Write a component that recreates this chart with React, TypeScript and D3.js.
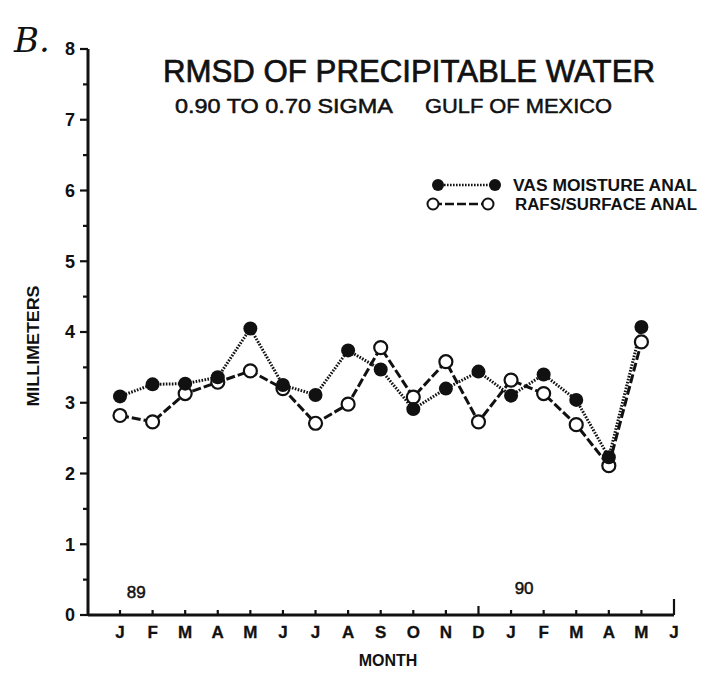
import React from "react";
import * as d3 from "d3";

// Monthly RMSD of precipitable water, Jan 1989 – May 1990
const months = ["J", "F", "M", "A", "M", "J", "J", "A", "S", "O", "N", "D", "J", "F", "M", "A", "M", "J"];
const vasMoisture = [3.09, 3.26, 3.27, 3.36, 4.05, 3.25, 3.11, 3.74, 3.47, 2.91, 3.2, 3.44, 3.1, 3.4, 3.04, 2.23, 4.07];
const rafsSurface = [2.82, 2.73, 3.13, 3.29, 3.45, 3.2, 2.71, 2.98, 3.78, 3.08, 3.58, 2.73, 3.32, 3.13, 2.69, 2.11, 3.86];
const yMajorTicks = [0, 1, 2, 3, 4, 5, 6, 7, 8];
const yMinorTicks = [0.5, 1.5, 2.5, 3.5, 4.5, 5.5, 6.5, 7.5];
const yearLabels = [
  { label: "89", index: 0.5 },
  { label: "90", index: 12.4 },
];

const W = 706;
const H = 680;
const sans = "'Liberation Sans', Arial, Helvetica, sans-serif";
const ink = "#111";

export default function App() {
  const axisX = 88;
  const x = d3.scaleLinear().domain([0, 17]).range([120, 674]);
  const y = d3.scaleLinear().domain([0, 8]).range([615, 49]);

  const line = d3
    .line<number>()
    .x((_, i) => x(i))
    .y((d) => y(d));

  return (
    <svg
      width={W}
      height={H}
      viewBox={`0 0 ${W} ${H}`}
      style={{ position: "absolute", left: 0, top: 0, background: "#fff" }}
    >
      <rect width={W} height={H} fill="#fff" />

      {/* panel letter */}
      <text x={14} y={52} fontFamily="'DejaVu Serif', serif" fontStyle="italic" fontSize={34} fill={ink}>
        B.
      </text>

      {/* titles */}
      <text x={163} y={82} fontFamily={sans} fontSize={32} textLength={492} lengthAdjust="spacingAndGlyphs" fill={ink} stroke={ink} strokeWidth={0.7}>
        RMSD OF PRECIPITABLE WATER
      </text>
      <text x={175} y={113} fontFamily={sans} fontSize={20} textLength={218} lengthAdjust="spacingAndGlyphs" fill={ink} stroke={ink} strokeWidth={0.5}>
        0.90 TO 0.70 SIGMA
      </text>
      <text x={425} y={113} fontFamily={sans} fontSize={20} textLength={187} lengthAdjust="spacingAndGlyphs" fill={ink} stroke={ink} strokeWidth={0.5}>
        GULF OF MEXICO
      </text>

      {/* y axis */}
      <line x1={axisX} x2={axisX} y1={y(8)} y2={y(0)} stroke={ink} strokeWidth={3} />
      {yMajorTicks.map((t) => (
        <g key={`ym${t}`}>
          <line x1={axisX - 8} x2={axisX} y1={y(t)} y2={y(t)} stroke={ink} strokeWidth={2.2} />
          <text
            x={axisX - 13}
            y={y(t)}
            dy="0.36em"
            textAnchor="end"
            fontFamily={sans}
            fontWeight="bold"
            fontSize={18}
            fill={ink}
          >
            {t}
          </text>
        </g>
      ))}
      {yMinorTicks.map((t) => (
        <line key={`yn${t}`} x1={axisX - 5} x2={axisX} y1={y(t)} y2={y(t)} stroke={ink} strokeWidth={2.2} />
      ))}
      <text
        transform={`translate(39, 346) rotate(-90)`}
        textAnchor="middle"
        fontFamily={sans}
        fontWeight="bold"
        fontSize={17}
        textLength={121}
        lengthAdjust="spacingAndGlyphs"
        fill={ink}
      >
        MILLIMETERS
      </text>

      {/* x axis */}
      <line x1={axisX} x2={x(17)} y1={y(0)} y2={y(0)} stroke={ink} strokeWidth={3} />
      {months.map((m, i) => {
        const h = i === 17 ? 16 : i === 11 ? 9 : 5;
        return (
          <g key={`xm${i}`}>
            <line x1={x(i)} x2={x(i)} y1={y(0)} y2={y(0) - h} stroke={ink} strokeWidth={2.2} />
            <text
              x={x(i)}
              y={638}
              textAnchor="middle"
              fontFamily={sans}
              fontWeight="bold"
              fontSize={17}
              fill={ink}
              stroke={ink}
              strokeWidth={0.3}
            >
              {m}
            </text>
          </g>
        );
      })}
      <text x={388} y={666} textAnchor="middle" fontFamily={sans} fontSize={16} fontWeight="bold" fill={ink}>
        MONTH
      </text>
      {yearLabels.map((yl) => (
        <text
          key={yl.label}
          x={x(yl.index)}
          y={yl.label === "89" ? 598 : 594}
          textAnchor="middle"
          fontFamily={sans}
          fontSize={17}
          fill={ink}
          stroke={ink}
          strokeWidth={0.5}
        >
          {yl.label}
        </text>
      ))}

      {/* series lines */}
      <path d={line(rafsSurface) ?? ""} fill="none" stroke={ink} strokeWidth={3} strokeDasharray="9 3" />
      <path d={line(vasMoisture) ?? ""} fill="none" stroke={ink} strokeWidth={3} strokeDasharray="1.6 1.4" />

      {/* markers */}
      {rafsSurface.map((v, i) => (
        <circle key={`r${i}`} cx={x(i)} cy={y(v)} r={6.5} fill="#fff" stroke={ink} strokeWidth={2.2} />
      ))}
      {vasMoisture.map((v, i) => (
        <circle key={`v${i}`} cx={x(i)} cy={y(v)} r={7} fill={ink} />
      ))}

      {/* legend */}
      <line x1={438} x2={495} y1={185} y2={185} stroke={ink} strokeWidth={2.5} strokeDasharray="1.6 1.4" />
      <circle cx={438} cy={185} r={6} fill={ink} />
      <circle cx={495} cy={185} r={6} fill={ink} />
      <text x={513} y={191} fontFamily={sans} fontWeight="bold" fontSize={16} textLength={184} lengthAdjust="spacingAndGlyphs" fill={ink}>
        VAS MOISTURE ANAL
      </text>
      <line x1={433} x2={488} y1={204} y2={204} stroke={ink} strokeWidth={2.5} strokeDasharray="9 3" />
      <circle cx={433} cy={204} r={5.5} fill="#fff" stroke={ink} strokeWidth={2} />
      <circle cx={488} cy={204} r={5.5} fill="#fff" stroke={ink} strokeWidth={2} />
      <text x={515} y={210} fontFamily={sans} fontWeight="bold" fontSize={16} textLength={182} lengthAdjust="spacingAndGlyphs" fill={ink}>
        RAFS/SURFACE ANAL
      </text>
    </svg>
  );
}
